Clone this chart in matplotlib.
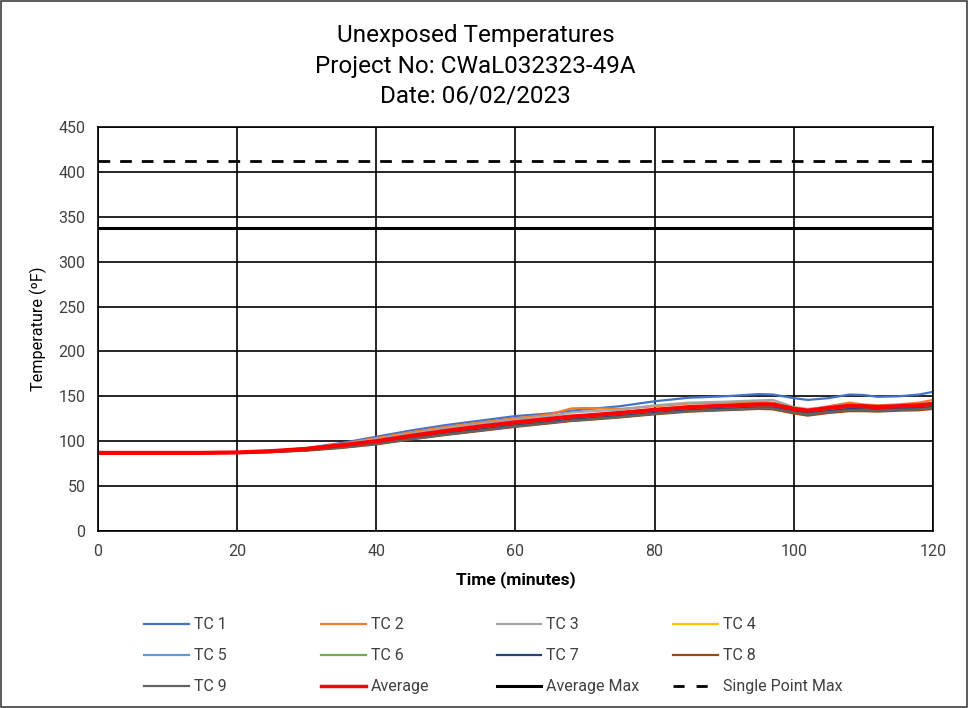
import matplotlib
matplotlib.use("Agg")
import matplotlib.pyplot as plt
from matplotlib.patches import Rectangle

plt.rcParams['font.family'] = ['Roboto', 'DejaVu Sans']

# time (minutes)
time_min = [0, 5, 10, 15, 20, 25, 30, 35, 40, 45, 50, 55, 60, 65, 68, 70, 75,
            80, 85, 90, 95, 97, 100, 102, 105, 108, 110, 112, 115, 118, 120]

# thermocouple readings (F)
tc1 = [87, 87, 87, 87, 87.5, 89, 92.5, 98, 105, 112, 118, 123, 128, 131, 134, 135.5, 139,
       144.5, 148.5, 150, 152.5, 152, 148, 146, 148, 152, 151.5, 149.5, 150, 152, 155]
tc2 = [87, 87, 87, 87, 87.5, 89, 92, 97, 103.5, 110, 116, 121, 125.5, 130, 136.5, 137, 136,
       139, 142, 143, 144, 143, 137, 135, 139, 143, 141, 140, 141, 143, 146]
tc3 = [87, 87, 87, 87, 87.5, 89, 92, 96.5, 102.5, 108.5, 114.5, 119.5, 124, 128, 132, 133, 135,
       140, 143, 144, 145.5, 146, 138, 136, 138, 141, 140, 139, 140, 141, 143]
tc4 = [87, 87, 87, 87, 87.5, 88.5, 91, 95, 99.5, 105, 110.5, 115.5, 120, 124, 126.5, 127.5, 130.5,
       134, 137, 138.5, 140, 140, 135, 133, 136, 138.5, 138, 137, 138, 139, 140.5]
tc5 = [87, 87, 87, 87, 87.5, 89, 91.5, 96, 100.5, 106.5, 112, 117, 121.5, 125.5, 128, 129, 132,
       135.5, 138.5, 140, 141.5, 141.5, 136.5, 134.5, 137.5, 140, 139.5, 138.5, 139.5, 140.5, 142]
tc6 = [87, 87, 87, 87, 87.5, 88.5, 90.5, 94, 98.5, 104, 109.5, 114.5, 119, 123, 125.5, 126.5, 129.5,
       133, 136, 137.5, 139, 139, 134, 132, 135, 137.5, 137, 136, 137, 138, 139.5]
tc7 = [87, 87, 87, 87, 87.5, 88, 90, 93.5, 97.5, 103, 108.5, 113, 117.5, 121.5, 124, 125, 128,
       131.5, 134.5, 136, 137.5, 137.5, 133, 131, 133.5, 136, 135.5, 135, 136, 137, 138]
tc8 = [87, 87, 87, 87, 87, 88, 89.5, 92.5, 96.5, 102, 107, 111.5, 116, 120, 122.5, 123.5, 126.5,
       130, 133, 134.5, 136, 135.5, 131, 128.5, 131.5, 133.5, 133.5, 133, 134, 134.5, 136]
tc9 = [87, 87, 87, 87, 87, 88, 90, 93, 97, 102.5, 107.5, 112, 116.5, 120.5, 123, 124, 127,
       130.5, 133.5, 135, 136.5, 136.5, 132, 130, 132.5, 134.5, 134.5, 134, 135, 135.5, 137]
average = [87, 87, 87, 87, 87.5, 89, 91.5, 95.5, 100, 106, 111.5, 116.5, 121, 125, 127.5, 128.5, 131.5,
           135, 138, 139.5, 141, 141, 136, 134, 137, 139.5, 139, 138, 139, 140, 141.5]

avg_max = 337
single_point_max = 412

tc_series = [tc1, tc2, tc3, tc4, tc5, tc6, tc7, tc8, tc9]
tc_names = ['TC 1', 'TC 2', 'TC 3', 'TC 4', 'TC 5', 'TC 6', 'TC 7', 'TC 8', 'TC 9']
tc_colors = ['#4472C4', '#ED7D31', '#A5A5A5', '#FFC000', '#5B9BD5',
             '#70AD47', '#264478', '#9E480E', '#636363']

txt_color = '#404040'

fig = plt.figure(figsize=(9.69, 7.08), dpi=100)
ax = fig.add_axes([0.1011, 0.25, 0.8617, 0.5706])

handles = []
for vals, name, c in zip(tc_series, tc_names, tc_colors):
    ln, = ax.plot(time_min, vals, color=c, lw=1.6, label=name)
    handles.append(ln)

ln, = ax.plot(time_min, average, color='#FF0000', lw=3, label='Average')
handles.append(ln)
ln, = ax.plot([time_min[0], time_min[-1]], [avg_max, avg_max], color='black', lw=2.2,
              label='Average Max')
handles.append(ln)
ln, = ax.plot([time_min[0], time_min[-1]], [single_point_max, single_point_max], color='black',
              lw=2, linestyle=(0, (4.2, 3.6)), label='Single Point Max')
handles.append(ln)

ax.set_xlim(0, 120)
ax.set_ylim(0, 450)
ax.set_xticks(range(0, 121, 20))
ax.set_yticks(range(0, 451, 50))
ax.grid(True, color='black', lw=1.2)
ax.set_axisbelow(True)
for s in ax.spines.values():
    s.set_color('black')
    s.set_linewidth(1.2)
ax.tick_params(length=0, labelsize=11.5, pad=9, labelcolor=txt_color)
ax.set_xlabel('Time (minutes)', fontsize=12.5, fontweight='bold', labelpad=9)
ax.set_ylabel('Temperature (ºF)', fontsize=11.7, labelpad=8)

fig.text(0.491, 0.950, 'Unexposed Temperatures', ha='center', va='center', fontsize=17.5)
fig.text(0.491, 0.906, 'Project No: CWaL032323-49A', ha='center', va='center', fontsize=17.5)
fig.text(0.491, 0.865, 'Date: 06/02/2023', ha='center', va='center', fontsize=17.5)

# legend laid out in 4 equal columns like the spreadsheet
col_x = [0.142, 0.325, 0.506, 0.688]
for c in range(4):
    hs = handles[c::4]
    leg = fig.legend(hs, [h.get_label() for h in hs], loc='upper left',
                     bbox_to_anchor=(col_x[c], 0.137), frameon=False, fontsize=11.5,
                     handlelength=2.8, handletextpad=0.3, labelspacing=1.0,
                     borderaxespad=0)
    for t in leg.get_texts():
        t.set_color(txt_color)
    for lh in leg.get_lines():
        if lh.get_color() == '#FF0000':
            lh.set_linewidth(2.5)
        if lh.get_label() == 'Single Point Max' or lh.get_linestyle() not in ('-', 'solid'):
            lh.set_linestyle((0, (4, 4.3)))

fig.patches.append(Rectangle((0.001, 0.001), 0.997, 0.997, transform=fig.transFigure,
                             fill=False, edgecolor='#404040', lw=1.2))

fig.savefig('out.png', dpi=100)
